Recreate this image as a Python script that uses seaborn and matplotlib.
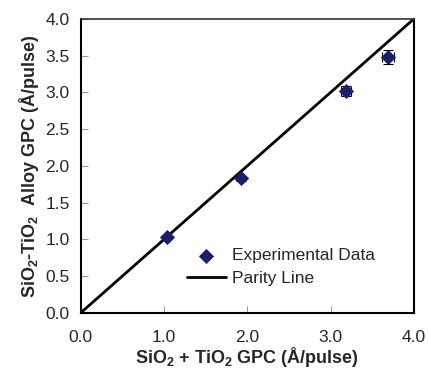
import matplotlib
matplotlib.use("Agg")
import matplotlib.pyplot as plt
import seaborn as sns
import pandas as pd

# measured points (sum of binary GPCs vs alloy GPC), Å/pulse
sum_gpc = [1.04, 1.93, 3.19, 3.69]
alloy_gpc = [1.03, 1.83, 3.02, 3.48]
x_err = [0.02, 0.02, 0.06, 0.07]
y_err = [0.02, 0.03, 0.07, 0.10]

parity_x = [0.0, 4.0]
parity_y = [0.0, 4.0]

ticks_x = [0.0, 1.0, 2.0, 3.0, 4.0]
ticks_y = [0.0, 0.5, 1.0, 1.5, 2.0, 2.5, 3.0, 3.5, 4.0]

NAVY = "#1b1f6b"


def main():
    sns.set_style("ticks")
    plt.rcParams["font.family"] = ["Liberation Sans", "DejaVu Sans"]
    plt.rcParams["mathtext.fontset"] = "custom"
    plt.rcParams["mathtext.rm"] = "Liberation Sans"
    plt.rcParams["mathtext.bf"] = "Liberation Sans:bold"

    fig = plt.figure(figsize=(4.29, 3.69), dpi=100)
    ax = fig.add_axes([0.188, 0.152, 0.777, 0.797])

    df = pd.DataFrame({"x": sum_gpc, "y": alloy_gpc})
    par = pd.DataFrame({"x": parity_x, "y": parity_y})

    ax.errorbar(sum_gpc, alloy_gpc, xerr=x_err, yerr=y_err, fmt="none",
                ecolor="black", elinewidth=0.8, capsize=3.5, capthick=0.8, zorder=2)
    sns.scatterplot(data=df, x="x", y="y", ax=ax, marker="D", s=60,
                    color=NAVY, edgecolor=NAVY, linewidth=0,
                    label="Experimental Data", zorder=3)
    sns.lineplot(data=par, x="x", y="y", ax=ax, color="black", linewidth=2.0,
                 label="Parity Line", zorder=1)

    ax.set_xlim(0, 4)
    ax.set_ylim(0, 4)
    ax.set_xticks(ticks_x)
    ax.set_yticks(ticks_y)
    ax.set_xticklabels([f"{t:.1f}" for t in ticks_x])
    ax.set_yticklabels([f"{t:.1f}" for t in ticks_y])
    ax.tick_params(direction="in", length=5, width=0.8, color="#999999",
                   labelsize=12.5)
    ax.tick_params(axis="x", pad=12)
    ax.tick_params(axis="y", pad=8)

    for side in ["left", "bottom", "right"]:
        ax.spines[side].set_linewidth(1.5)
        ax.spines[side].set_color("black")
    ax.spines["top"].set_linewidth(1.2)
    ax.spines["top"].set_color("#333333")
    ax.spines["top"].set_visible(True)
    ax.spines["right"].set_visible(True)

    ax.set_xlabel(r"SiO$_\mathbf{2}$ + TiO$_\mathbf{2}$ GPC (Å/pulse)",
                  fontsize=13, fontweight="bold", labelpad=0)
    ax.set_ylabel(r"SiO$_\mathbf{2}$-TiO$_\mathbf{2}$  Alloy GPC (Å/pulse)",
                  fontsize=13, fontweight="bold", labelpad=3)

    ax.legend(loc="lower left", bbox_to_anchor=(0.32, 0.09), frameon=False,
              fontsize=12.5, handlelength=2.2, handletextpad=0.4,
              labelspacing=0.45, borderpad=0, borderaxespad=0)

    fig.savefig("out.png", dpi=100)


if __name__ == "__main__":
    main()
